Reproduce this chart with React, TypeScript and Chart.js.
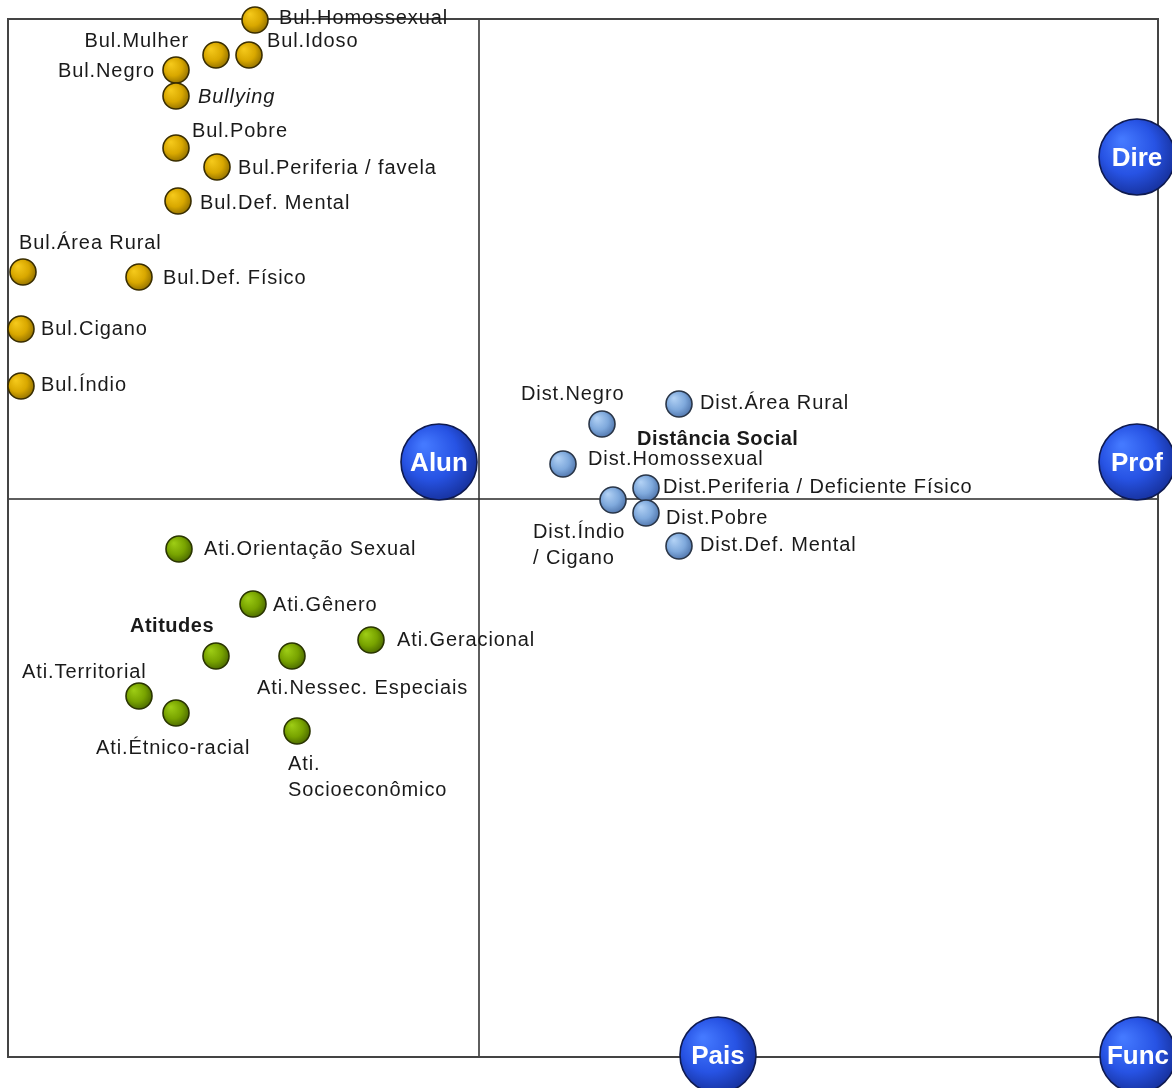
import React, { useEffect, useRef } from "react";
import { Chart, registerables } from "chart.js";

Chart.register(...registerables);

// ---- Data (coordinates on the two correspondence-analysis dimensions) ----
const bulLabels = [
  "Bul.Homossexual", "Bul.Idoso", "Bul.Mulher", "Bul.Negro", "Bullying", "Bul.Pobre",
  "Bul.Periferia / favela", "Bul.Def. Mental", "Bul.Área Rural", "Bul.Def. Físico",
  "Bul.Cigano", "Bul.Índio",
];
const bulX = [-0.448, -0.46, -0.526, -0.606, -0.606, -0.606, -0.524, -0.602, -0.912, -0.68, -0.916, -0.916];
const bulY = [0.958, 0.888, 0.888, 0.858, 0.806, 0.702, 0.664, 0.596, 0.454, 0.444, 0.34, 0.226];

const distLabels = [
  "Distância Social", "Dist.Negro", "Dist.Área Rural", "Dist.Homossexual",
  "Dist.Periferia / Deficiente Físico", "Dist.Índio\n/ Cigano", "Dist.Pobre", "Dist.Def. Mental",
];
const distX = [0.332, 0.246, 0.4, 0.168, 0.334, 0.268, 0.334, 0.4];
const distY = [0.018, 0.15, 0.19, 0.07, 0.022, -0.002, -0.028, -0.094];

const atiLabels = [
  "Ati.Orientação Sexual", "Ati.Gênero", "Ati.Geracional", "Atitudes", "Ati.Nessec. Especiais",
  "Ati.Territorial", "Ati.Étnico-racial", "Ati.\nSocioeconômico",
];
const atiX = [-0.6, -0.452, -0.216, -0.526, -0.374, -0.68, -0.606, -0.364];
const atiY = [-0.1, -0.21, -0.282, -0.314, -0.314, -0.394, -0.428, -0.464];

const groupLabels = ["Alun", "Dire", "Prof", "Pais", "Func"];
const groupX = [-0.08, 1.316, 1.316, 0.478, 1.318];
const groupY = [0.074, 0.684, 0.074, -1.112, -1.112];

const xRange = [-0.942, 1.358];
const yRange = [-1.116, 0.96];

// ---- Label layout (style only): [dx, dy, align, fontKind] ----
type Lay = [number, number, CanvasTextAlign, string];
const bulLayout: Lay[] = [
  [24, -3, "left", "n"], [18, -15, "left", "n"], [-27, -15, "right", "n"], [-21, 0, "right", "n"],
  [22, 0, "left", "i"], [16, -18, "left", "n"], [21, 0, "left", "n"], [22, 1, "left", "n"],
  [-4, -30, "left", "n"], [24, 0, "left", "n"], [20, -1, "left", "n"], [20, -2, "left", "n"],
];
const distLayout: Lay[] = [
  [-8, -52, "left", "b"], [-81, -31, "left", "n"], [21, -2, "left", "n"], [25, -6, "left", "n"],
  [17, -2, "left", "n"], [-80, 31, "left", "n"], [20, 4, "left", "n"], [21, -2, "left", "n"],
];
const atiLayout: Lay[] = [
  [25, -1, "left", "n"], [20, 0, "left", "n"], [26, -1, "left", "n"], [-86, -31, "left", "b"],
  [-35, 31, "left", "n"], [-117, -25, "left", "n"], [-80, 34, "left", "n"], [-9, 32, "left", "n"],
];
const groupLayout: Lay[] = groupLabels.map(() => [0, 0, "center", "g"] as Lay);

function makeSphere(r: number, light: string, mid: string, dark: string, stroke: string) {
  const c = document.createElement("canvas");
  const s = Math.ceil(2 * r + 4);
  c.width = s;
  c.height = s;
  const g = c.getContext("2d")!;
  const cx = s / 2;
  const grad = g.createRadialGradient(cx - r * 0.4, cx - r * 0.45, r * 0.05, cx - r * 0.1, cx - r * 0.1, r * 1.25);
  grad.addColorStop(0, light);
  grad.addColorStop(0.55, mid);
  grad.addColorStop(1, dark);
  g.beginPath();
  g.arc(cx, cx, r, 0, Math.PI * 2);
  g.fillStyle = grad;
  g.fill();
  g.lineWidth = 1.6;
  g.strokeStyle = stroke;
  g.stroke();
  return c;
}

const framePlugin = {
  id: "frame",
  beforeDatasetsDraw(chart: any) {
    const { ctx, chartArea, scales } = chart;
    const x0 = scales.x.getPixelForValue(0);
    const y0 = scales.y.getPixelForValue(0);
    ctx.save();
    ctx.strokeStyle = "#2a2a2a";
    ctx.lineWidth = 1.5;
    ctx.beginPath();
    ctx.moveTo(x0, chartArea.top);
    ctx.lineTo(x0, chartArea.bottom);
    ctx.moveTo(chartArea.left, y0);
    ctx.lineTo(chartArea.right, y0);
    ctx.stroke();
    ctx.strokeStyle = "#444";
    ctx.lineWidth = 2;
    ctx.strokeRect(chartArea.left, chartArea.top, chartArea.right - chartArea.left, chartArea.bottom - chartArea.top);
    ctx.restore();
  },
};

const labelPlugin = {
  id: "pointLabels",
  afterDatasetsDraw(chart: any) {
    const ctx = chart.ctx;
    ctx.save();
    chart.data.datasets.forEach((ds: any, i: number) => {
      const meta = chart.getDatasetMeta(i);
      meta.data.forEach((el: any, j: number) => {
        const text: string = ds.pointNames[j];
        const [dx, dy, align, kind] = ds.labelLayout[j] as Lay;
        const fam = '"Liberation Sans", Arial, sans-serif';
        if (kind === "g") {
          ctx.font = `bold 26px ${fam}`;
          ctx.fillStyle = "#ffffff";
          (ctx as any).letterSpacing = "0px";
        } else {
          ctx.font = `${kind === "i" ? "italic " : ""}${kind === "b" ? "bold " : ""}20px ${fam}`;
          ctx.fillStyle = "#1a1a1a";
          (ctx as any).letterSpacing = kind === "b" ? "0.5px" : "0.9px";
        }
        ctx.textAlign = align;
        ctx.textBaseline = "middle";
        const lines = text.split("\n");
        lines.forEach((ln, k) => {
          ctx.fillText(ln, el.x + dx, el.y + dy + 1.5 + k * 25.5);
        });
      });
    });
    ctx.restore();
  },
};

function toPts(xs: number[], ys: number[]) {
  return xs.map((x, i) => ({ x, y: ys[i] }));
}

export default function App() {
  const ref = useRef<HTMLCanvasElement | null>(null);
  useEffect(() => {
    document.body.style.margin = "0";
    const gold = makeSphere(13, "#F4C81A", "#D9A800", "#8A6A00", "#3A2E00");
    const lblue = makeSphere(13, "#B0D0F4", "#7FA9DC", "#4A6FA6", "#2A3648");
    const green = makeSphere(13, "#9CCB14", "#78A300", "#456200", "#2A3500");
    const blue = makeSphere(38, "#4479FF", "#2753E4", "#142C92", "#0E1A50");
    const chart = new Chart(ref.current!, {
      type: "scatter",
      data: {
        datasets: [
          {
            data: toPts(groupX, groupY), pointStyle: blue, pointRadius: 38,
            pointNames: groupLabels, labelLayout: groupLayout, clip: false,
          } as any,
          {
            data: toPts(distX, distY), pointStyle: lblue,
            pointRadius: distLabels.map((_, i) => (i === 0 ? 0 : 13)),
            pointNames: distLabels, labelLayout: distLayout, clip: false,
          } as any,
          {
            data: toPts(atiX, atiY), pointStyle: green, pointRadius: 13,
            pointNames: atiLabels, labelLayout: atiLayout, clip: false,
          } as any,
          {
            data: toPts(bulX, bulY), pointStyle: gold, pointRadius: 13,
            pointNames: bulLabels, labelLayout: bulLayout, clip: false,
          } as any,
        ],
      },
      options: {
        animation: false,
        responsive: true,
        maintainAspectRatio: false,
        layout: { autoPadding: false, padding: { left: 8, top: 19, right: 14, bottom: 31 } },
        scales: {
          x: { type: "linear", display: false, min: xRange[0], max: xRange[1] },
          y: { type: "linear", display: false, min: yRange[0], max: yRange[1] },
        },
        plugins: { legend: { display: false }, tooltip: { enabled: false } },
      },
      plugins: [framePlugin, labelPlugin],
    });
    return () => chart.destroy();
  }, []);
  return (
    <div style={{ position: "relative", width: 1172, height: 1088, background: "#fff" }}>
      <canvas ref={ref} />
    </div>
  );
}
